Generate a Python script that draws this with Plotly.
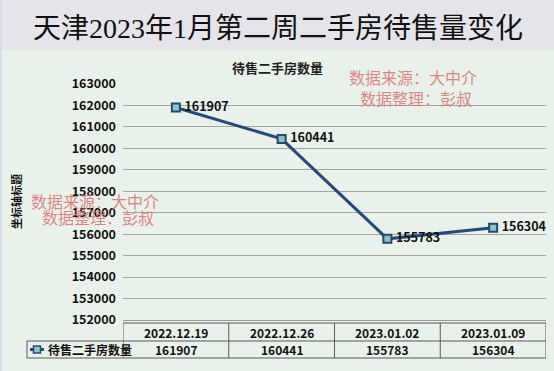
import plotly.graph_objects as go

dates = ["2022.12.19", "2022.12.26", "2023.01.02", "2023.01.09"]
values = [161907, 160441, 155783, 156304]
series_name = "待售二手房数量"
title_text = "天津2023年1月第二周二手房待售量变化"
chart_title = "待售二手房数量"
y_axis_title = "坐标轴标题"
watermark1 = "数据来源：大中介"
watermark2 = "数据整理：彭叔"
y_ticks = list(range(152000, 164000, 1000))

W, H = 554, 371
L, R, T, B = 123, 546, 84, 320

def py(p):
    return (B - p) / (B - T)

def px(p):
    return (p - L) / (R - L)

BG = "#e8f1ea"
LINE = "#244a7c"
CJK = "Noto Sans CJK SC, Noto Sans, sans-serif"

fig = go.Figure()
xs = list(range(len(dates)))
fig.add_trace(go.Scatter(
    x=xs, y=values, mode="lines+markers+text",
    line=dict(color=LINE, width=3),
    marker=dict(symbol="square", size=8, color="#8cc4c0",
                line=dict(color=LINE, width=2)),
    text=["\u2009" + str(v) for v in values], textposition="middle right",
    textfont=dict(family=CJK, size=12.5, color="#111111", weight="bold"),
    cliponaxis=False, showlegend=False,
))

shapes = []
# header band
shapes.append(dict(type="rect", xref="paper", yref="paper", x0=px(0), x1=px(W),
                   y0=py(50), y1=py(0), fillcolor="#e4e4ea", line=dict(width=0), layer="below"))
# left strip
shapes.append(dict(type="rect", xref="paper", yref="paper", x0=px(0), x1=px(2),
                   y0=py(H), y1=py(0), fillcolor="#d6dfe9", line=dict(width=0), layer="below"))
# table lines
tc = "#5a5a5a"
row_top, row_mid, row_bot = 323, 341, 358
shapes.append(dict(type="line", xref="x", yref="paper", x0=-0.5, x1=len(dates) - 0.5,
                   y0=py(row_top), y1=py(row_top), line=dict(color=tc, width=1)))
for yy in (row_mid, row_bot):
    shapes.append(dict(type="line", xref="paper", yref="paper", x0=px(27), x1=1,
                       y0=py(yy), y1=py(yy), line=dict(color=tc, width=1)))
for i in range(len(dates) + 1):
    shapes.append(dict(type="line", xref="x", yref="paper", x0=i - 0.5, x1=i - 0.5,
                       y0=py(row_top), y1=py(row_bot), line=dict(color=tc, width=1)))
shapes.append(dict(type="line", xref="paper", yref="paper", x0=px(27), x1=px(27),
                   y0=py(row_mid), y1=py(row_bot), line=dict(color=tc, width=1)))
# legend icon
shapes.append(dict(type="line", xref="paper", yref="paper", x0=px(30), x1=px(44),
                   y0=py(349.5), y1=py(349.5), line=dict(color=LINE, width=3)))
shapes.append(dict(type="rect", xref="paper", yref="paper", x0=px(33.5), x1=px(40.5),
                   y0=py(353), y1=py(346), fillcolor="#8cc4c0", line=dict(color=LINE, width=1.5)))

ann = []
ann.append(dict(text=title_text, xref="paper", yref="paper", x=px(W / 2 + 1), y=py(29),
                showarrow=False, xanchor="center", yanchor="middle",
                font=dict(family="Liberation Serif, Noto Sans CJK SC, serif", size=28, color="#111111")))
ann.append(dict(text=chart_title, xref="paper", yref="paper", x=px(277), y=py(67),
                showarrow=False, xanchor="center", yanchor="middle",
                font=dict(family=CJK, size=13, color="#222222", weight="bold")))
ann.append(dict(text=y_axis_title, xref="paper", yref="paper", x=px(16), y=py(202),
                showarrow=False, textangle=-90, xanchor="center", yanchor="middle",
                font=dict(family=CJK, size=11, color="#111111", weight="bold")))
wm_font = dict(family="Liberation Serif, Noto Sans CJK SC, serif", size=16, color="rgba(226,110,110,0.85)")
for (cx, y1, y2) in ((413, 78, 99), (95, 202, 218)):
    ann.append(dict(text=watermark1, xref="paper", yref="paper", x=px(cx), y=py(y1),
                    showarrow=False, xanchor="center", yanchor="middle", font=wm_font))
    ann.append(dict(text=watermark2, xref="paper", yref="paper", x=px(cx + 3), y=py(y2),
                    showarrow=False, xanchor="center", yanchor="middle", font=wm_font))
tfont = dict(family=CJK, size=12, color="#111111", weight="bold")
for i, (d, v) in enumerate(zip(dates, values)):
    ann.append(dict(text=d, xref="x", yref="paper", x=i, y=py((row_top + row_mid) / 2),
                    showarrow=False, xanchor="center", yanchor="middle", font=tfont))
    ann.append(dict(text=str(v), xref="x", yref="paper", x=i, y=py((row_mid + row_bot) / 2),
                    showarrow=False, xanchor="center", yanchor="middle", font=tfont))
ann.append(dict(text=series_name, xref="paper", yref="paper", x=px(46), y=py((row_mid + row_bot) / 2),
                showarrow=False, xanchor="left", yanchor="middle", font=tfont))

fig.update_layout(
    width=W, height=H,
    margin=dict(l=L, r=W - R, t=T, b=H - B, pad=0),
    paper_bgcolor=BG, plot_bgcolor=BG,
    shapes=shapes, annotations=ann,
    xaxis=dict(range=[-0.5, len(dates) - 0.5], showticklabels=False, showgrid=False,
               zeroline=False, showline=True, linecolor="#9a9a9a", linewidth=1),
    yaxis=dict(range=[152000, 163000], tickvals=y_ticks, ticktext=[str(t) for t in y_ticks],
               showgrid=True, gridcolor="#a3a6a4", gridwidth=1, zeroline=False,
               showline=False, ticks="", ticklabelstandoff=6,
               tickfont=dict(family=CJK, size=12.5, color="#111111", weight="bold")),
)

fig.write_html("out.html", config={"displayModeBar": False},
               post_script="document.body.style.margin='0';document.body.style.overflow='hidden';")
